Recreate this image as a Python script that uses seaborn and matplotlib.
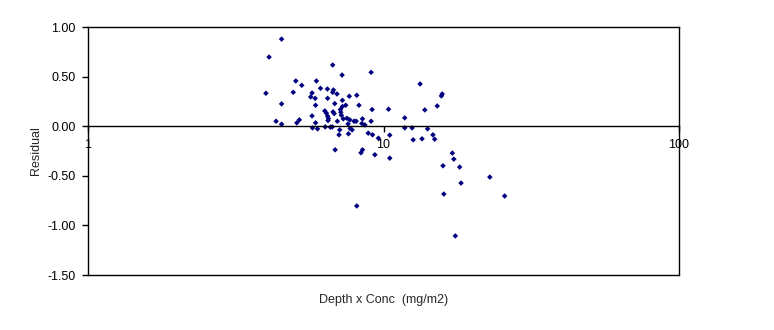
import matplotlib
matplotlib.use("Agg")
import matplotlib.pyplot as plt
import seaborn as sns
import numpy as np
from matplotlib.lines import Line2D
from matplotlib.ticker import NullLocator, FixedLocator, FixedFormatter

depth_conc = [4.00, 4.10, 4.52, 4.52, 4.33, 4.52, 4.95, 5.05, 5.09, 5.19,
              5.29, 5.67, 5.73, 5.73, 5.75, 5.87, 5.89, 5.89, 5.93, 5.98,
              6.12, 6.33, 6.35, 6.41, 6.46, 6.47, 6.47, 6.49, 6.51, 6.61,
              6.71, 6.73, 6.73, 6.75, 6.77, 6.81, 6.84, 6.86, 6.96, 6.98,
              7.07, 7.11, 7.15, 7.17, 7.20, 7.24, 7.26, 7.26, 7.31, 7.45,
              7.52, 7.59, 7.61, 7.66, 7.69, 7.71, 7.83, 7.95, 8.08, 8.12,
              8.12, 8.26, 8.39, 8.45, 8.49, 8.49, 8.65, 8.88, 9.08, 9.08,
              9.15, 9.18, 9.35, 9.61, 10.4, 10.5, 10.5, 11.8, 11.8, 12.5,
              12.6, 13.3, 13.5, 13.8, 14.1, 14.7, 14.9, 15.2, 15.7, 15.8,
              15.9, 16.0, 17.1, 17.3, 17.5, 18.1, 18.3, 22.9, 25.7]
residual = [0.332, 0.697, 0.878, 0.225, 0.050, 0.020, 0.342, 0.456, 0.034, 0.064,
            0.412, 0.295, 0.335, 0.104, -0.017, 0.281, 0.211, 0.034, 0.456, -0.027,
            0.382, 0.154, -0.007, 0.131, 0.375, 0.281, 0.101, 0.057, 0.077, -0.010,
            -0.007, 0.617, 0.342, 0.144, 0.365, 0.127, 0.228, -0.238, 0.325, 0.050,
            -0.087, -0.037, 0.168, 0.141, 0.111, 0.516, 0.261, 0.198, 0.074, 0.211,
            0.080, 0.023, -0.077, 0.302, 0.064, -0.023, -0.037, 0.050, 0.050, 0.312,
            -0.804, 0.211, -0.268, 0.027, 0.074, -0.238, 0.013, -0.070, 0.543, 0.050,
            0.168, -0.087, -0.288, -0.121, 0.171, -0.090, -0.322, 0.084, -0.017, -0.017,
            -0.137, 0.426, -0.127, 0.164, -0.027, -0.087, -0.131, 0.204, 0.305, 0.325,
            -0.399, -0.684, -0.271, -0.332, -1.106, -0.412, -0.573, -0.513, -0.704]

x_ticks = [1, 10, 100]
x_tick_labels = ["1", "10", "100"]
y_ticks = [1.0, 0.5, 0.0, -0.5, -1.0, -1.5]
y_tick_labels = ["1.00", "0.50", "0.00", "-0.50", "-1.00", "-1.50"]

sns.set_style("white")
plt.rcParams['font.family'] = ['Liberation Sans', 'DejaVu Sans']
plt.rcParams['font.size'] = 9

fig = plt.figure(figsize=(7.74, 3.30), dpi=100)
ax = fig.add_axes([88/774, 1-275/330, (679-88)/774, (275-27)/330])

sns.scatterplot(x=depth_conc, y=residual, ax=ax, marker='D', color='#000080',
                s=8, linewidth=0, edgecolor='none')

ax.set_xscale('log')
ax.set_xlim(1, 100)
ax.set_ylim(-1.5, 1.0)
ax.xaxis.set_major_locator(FixedLocator(x_ticks))
ax.xaxis.set_major_formatter(FixedFormatter(x_tick_labels))
ax.xaxis.set_minor_locator(NullLocator())
ax.set_yticks(y_ticks)
ax.set_yticklabels(y_tick_labels)

for s in ax.spines.values():
    s.set_color('black')
    s.set_linewidth(1.0)
ax.spines['bottom'].set_position(('data', 0))
ax.add_line(Line2D([0, 1], [0, 0], transform=ax.transAxes, color='black',
                   linewidth=1.0, clip_on=False))

ax.tick_params(axis='both', direction='out', length=4, width=1, color='black',
               labelsize=9, labelcolor='black', bottom=True, left=True)
ax.tick_params(axis='x', pad=5)
ax.tick_params(axis='y', pad=5)

ax.set_xlabel("Depth x Conc  (mg/m2)", fontsize=9)
ax.set_ylabel("Residual", fontsize=9)
ax.xaxis.set_label_coords(0.5, -0.075)
ax.yaxis.set_label_coords(-0.078, 0.5)

fig.savefig("out.png", dpi=100, facecolor='white')
